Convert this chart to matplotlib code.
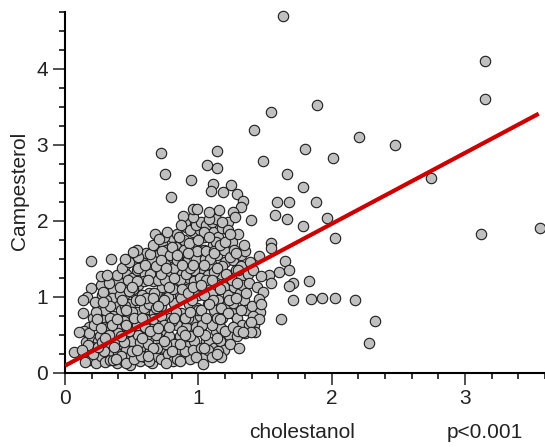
import numpy as np
import matplotlib
matplotlib.use('Agg')
import matplotlib.pyplot as plt
from matplotlib.ticker import MultipleLocator

plt.rcParams['font.family'] = ['Liberation Sans', 'DejaVu Sans']

# points on the edge of the cloud and outliers, read one by one
edge_x = [.72, .75, .795, .887, .872, .765, .675, .707, .855, .542, .51, .195, .345, .45, .27, .315, .195, .165, .135,
          .285, .225, .285, .135, .105, .07, .13, .15, 1.142, 1.067, 1.142, .945, 1.11, 1.097, 1.187, 1.245, 1.292,
          1.337, 1.32, 1.26, 1.277, 1.157, 1.08, .962, .992, 1.393, 1.485, 1.665, 1.80, 1.787, 1.59, 1.682, 1.577,
          1.665, 1.787, 1.547, 1.547, 1.455, 1.65, 1.682, 1.605, 1.532, 1.472, 1.547, 1.712, 1.682, 1.832, 1.712,
          1.843, 1.622, 1.487, 1.457, 1.472, 1.412, 1.457, 1.397, 1.427, 1.397, 1.337, 1.305, 1.172, 1.142, 1.037]
edge_y = [2.89, 2.61, 2.31, 2.06, 1.945, 1.845, 1.82, 1.765, 1.79, 1.61, 1.585, 1.475, 1.50, 1.50, 1.27, 1.29, 1.11, 1.00, .95,
          1.055, .925, .925, .79, .53, .265, .295, .135, 2.92, 2.74, 2.69, 2.53, 2.48, 2.39, 2.375, 2.475, 2.35,
          2.265, 2.18, 2.115, 2.055, 2.135, 2.11, 2.155, 2.155, 2.005, 2.79, 2.61, 2.945, 2.45, 2.24, 2.24, 2.08,
          2.025, 1.925, 1.71, 1.635, 1.53, 1.475, 1.345, 1.32, 1.29, 1.265, 1.185, 1.185, 1.135, 1.21, .95,
          .975, .71, 1.055, .975, .90, .74, .71, .66, .53, .53, .53, .32, .21, .24, .11]

far_x = [1.89, 1.42, 1.545, 2.205, 2.475, 2.01, 3.15, 3.15, 1.635, 2.745, 3.12, 3.56, 1.965, 1.885, 2.025, 1.93, 2.025, 2.175, 2.325, 2.28]
far_y = [3.53, 3.19, 3.43, 3.10, 3.0, 2.82, 4.11, 3.61, 4.70, 2.56, 1.82, 1.90, 2.03, 2.25, 1.77, .98, .98, .95, .68, .39]

# inside of the cloud, 12 per row
cloud_x = [.12, .15, .17, .19, .16, .20, .22, .18, .24, .21, .25, .23,
           .26, .28, .27, .30, .29, .31, .33, .25, .32, .34, .28, .30,
           .35, .37, .36, .39, .38, .40, .41, .36, .43, .42, .44, .40,
           .45, .46, .47, .44, .48, .49, .46, .50, .47, .51, .45, .49,
           .52, .53, .50, .54, .55, .52, .56, .54, .57, .53, .55, .58,
           .58, .60, .59, .61, .60, .62, .63, .61, .64, .62, .65, .63,
           .65, .66, .67, .68, .66, .69, .70, .68, .71, .69, .72, .70,
           .72, .73, .74, .75, .73, .76, .77, .75, .78, .76, .79, .77,
           .79, .80, .81, .82, .80, .83, .84, .82, .85, .83, .86, .84,
           .86, .87, .88, .89, .87, .90, .91, .89, .92, .90, .93, .91,
           .93, .94, .95, .96, .94, .97, .98, .96, .99, .97, 1.00, .98,
           1.00, 1.01, 1.02, 1.03, 1.01, 1.04, 1.05, 1.03, 1.06, 1.04, 1.07, 1.05,
           1.07, 1.08, 1.09, 1.10, 1.08, 1.11, 1.12, 1.10, 1.13, 1.11, 1.14, 1.12,
           1.14, 1.15, 1.16, 1.17, 1.15, 1.18, 1.19, 1.17, 1.20, 1.18, 1.21, 1.19,
           1.21, 1.22, 1.23, 1.24, 1.22, 1.25, 1.26, 1.24, 1.27, 1.25, 1.28, 1.26,
           1.28, 1.29, 1.30, 1.31, 1.29, 1.32, 1.33, 1.31, 1.34, 1.32, 1.35, 1.33,
           1.35, 1.36, 1.37, 1.38, 1.36, 1.39, 1.40, 1.38, 1.41, 1.42, 1.44, 1.46,
           .14, .18, .22, .20, .26, .24, .29, .27, .32, .30, .34, .33,
           .36, .38, .35, .40, .39, .42, .41, .44, .43, .46, .45, .48,
           .47, .50, .49, .52, .51, .54, .53, .56, .55, .58, .57, .60,
           .59, .62, .61, .64, .63, .66, .65, .68, .67, .70, .69, .72,
           .71, .74, .73, .76, .75, .78, .77, .80, .79, .82, .81, .84,
           .83, .86, .85, .88, .87, .90, .89, .92, .91, .94, .93, .96,
           .95, .98, .97, 1.00, .99, 1.02, 1.01, 1.04, 1.03, 1.06, 1.05, 1.08,
           1.07, 1.10, 1.09, 1.12, 1.11, 1.14, 1.13, 1.16, 1.15, 1.18, 1.17, 1.20,
           1.19, 1.22, 1.21, 1.24, 1.23, 1.26, 1.25, 1.28, 1.27, 1.30, 1.29, 1.32,
           .90, .94, .98, 1.02, 1.06, 1.10, 1.04, .96, 1.13, 1.18, 1.22, 1.08]
cloud_y = [.24, .21, .30, .17, .40, .46, .30, .60, .20, .72, .42, .13,
           .62, .82, .22, .14, .50, .70, .36, .85, .95, .17, 1.02, .60,
           .28, .48, .75, .12, .92, .25, .62, 1.10, .38, .82, .15, 1.20,
           .52, .30, .72, 1.02, .20, .90, 1.30, .42, 1.15, .62, 1.42, .10,
           1.05, .28, 1.25, .80, .50, 1.48, .15, 1.35, .68, .95, 1.15, .35,
           1.52, .20, .85, .48, 1.30, .70, 1.05, 1.58, .30, 1.42, .12, .90,
           .55, 1.20, .78, .22, 1.50, 1.02, .40, 1.68, .62, 1.35, .18, 1.55,
           .88, 1.12, .32, 1.45, 1.72, .55, .25, .98, 1.30, 1.62, .72, 1.18,
           .42, 1.52, .15, .92, 1.78, 1.20, .62, 1.38, .30, 1.65, 1.02, 1.82,
           .48, .78, 1.30, .22, 1.58, 1.10, .60, 1.75, .35, 1.45, .90, 1.92,
           1.25, .18, 1.65, .70, 1.02, .42, 1.50, 1.85, .85, 1.20, .28, 1.72,
           1.02, 1.88, .55, 1.38, .75, 1.62, .22, 1.12, .42, 1.78, .90, 1.50,
           1.28, .68, 1.95, 1.05, .40, 1.68, .82, 1.42, .55, 1.85, 1.15, .32,
           1.55, .95, .42, 1.30, 1.78, .72, 1.12, .58, 1.45, 1.90, .88, .30,
           1.65, 1.02, .50, 1.28, 1.98, .78, 1.48, .38, 1.12, 1.72, .62, .92,
           1.35, .48, 1.82, 1.05, .72, 1.55, .62, 1.25, .95, 1.40, .52, 1.15,
           1.60, .82, 1.30, .62, 1.05, 1.45, .88, 1.18, 1.35, .62, 1.12, .80,
           .55, .52, .62, .34, .48, .90, .28, 1.15, .58, .82, .72, 1.18,
           .16, .40, .98, .52, 1.28, .22, 1.02, .68, 1.38, .12, .88, .55,
           1.22, .80, 1.50, .18, 1.10, .62, 1.55, .40, 1.38, 1.02, .22, .60,
           1.20, .38, .98, 1.30, .15, .70, 1.48, .50, 1.05, 1.22, .32, .75,
           1.42, .62, 1.60, .12, 1.22, .48, 1.00, .68, 1.55, .38, 1.10, .18,
           .80, 1.22, 1.50, .55, .98, .28, 1.62, .72, 1.30, .48, 1.70, .30,
           .95, .60, 1.35, .82, 1.60, .32, 1.25, 1.02, .62, 1.60, .50, 1.18,
           .30, .62, 1.50, 1.32, .95, .72, 1.72, 1.10, .28, 1.40, .85, .55,
           1.62, .78, 1.30, 1.52, .95, .60, 1.22, .98, 1.62, .55, 1.18, .82,
           1.98, 1.88, 1.95, 1.98, 1.95, 1.98, 1.85, 2.05, 2.02, 1.98, 1.88, 2.02]

# more of the crowded middle
dense_x = [.17, .21, .23, .25, .28, .31, .33, .35, .37, .39, .41, .43,
           .44, .46, .48, .50, .52, .54, .56, .58, .60, .62, .64, .66,
           .68, .70, .72, .74, .76, .78, .80, .82, .84, .86, .88, .90,
           .92, .94, .96, 1.00, 1.02, 1.04, 1.06, 1.08, 1.10, 1.12, 1.14, 1.16,
           .24, .27, .30, .34, .38, .42, .46, .50, .54, .58, .62, .66,
           .70, .74, .78, .82, .86, .90, .94, .98, 1.02, 1.06, 1.10, 1.14,
           .48, .55, .60, .64, .68, .72, .76, .80, .84, .88, .74, .66,
           .92, .96, 1.00, 1.04, 1.08, 1.12, 1.16, 1.20, 1.24, 1.28, 1.30, 1.34]
dense_y = [.36, .24, .80, .33, .40, .95, .50, .62, .34, .70, 1.12, .95,
           .40, .62, 1.08, .28, .72, 1.20, .95, .45, .70, 1.22, .55, .32,
           .85, .58, 1.30, .95, .38, 1.12, .28, 1.25, 1.48, .15, 1.10, .72,
           1.05, 1.38, 1.12, .55, .82, .32, 1.22, .90, .20, 1.60, .45, .70,
           .70, .58, .45, .88, .18, .48, .82, 1.12, .30, .72, .22, .98,
           .88, .42, .60, .72, .38, .50, .80, .20, 1.15, .72, 1.22, 1.38,
           1.45, 1.52, 1.42, 1.56, 1.40, 1.48, 1.38, 1.65, 1.55, 1.42, 1.78, 1.68,
           1.58, 1.42, 1.75, 1.42, 1.78, 1.58, 1.68, 1.72, 1.82, 1.58, 1.35, 1.68]

fit_x = [0, 3.553]
fit_y = [.09, 3.41]

x_ticks = [0, 1, 2, 3]
y_ticks = [0, 1, 2, 3, 4]

W, H = 545, 447
fig = plt.figure(figsize=(W / 100, H / 100), dpi=100)
ax = fig.add_axes([65 / W, 1 - 372.5 / H, 480 / W, 360.5 / H])

xs = np.array(cloud_x + dense_x + edge_x + far_x)
ys = np.array(cloud_y + dense_y + edge_y + far_y)
ax.plot(xs, ys, 'o', ms=7.5, mfc='#c0c0c0', mec='#1c1c1c', mew=0.8, clip_on=False, zorder=2)
ax.plot(fit_x, fit_y, color='#cc0000', lw=3.0, solid_capstyle='butt', zorder=3)

ax.set_xlim(0, 3.6)
ax.set_ylim(0, 4.75)
ax.set_xticks(x_ticks)
ax.set_yticks(y_ticks)
ax.xaxis.set_minor_locator(MultipleLocator(0.2))
ax.yaxis.set_minor_locator(MultipleLocator(0.25))
ax.tick_params(which='major', length=8.6, width=1.1, labelsize=15, colors='#222222', pad=3.6)
ax.tick_params(which='minor', length=4.6, width=1.1)
ax.spines['top'].set_visible(False)
ax.spines['right'].set_visible(False)
ax.spines['left'].set_linewidth(1.5)
ax.spines['bottom'].set_linewidth(1.5)

fig.text(20 / W, 1 - 190.5 / H, 'Campesterol', rotation=90, ha='center', va='center', fontsize=15, color='#222222')
fig.text(302 / W, 1 - 432 / H, 'cholestanol', ha='center', va='center', fontsize=15, color='#222222')
fig.text(485 / W, 1 - 432 / H, 'p<0.001', ha='center', va='center', fontsize=15, color='#222222')

fig.savefig('out.png', dpi=100)
